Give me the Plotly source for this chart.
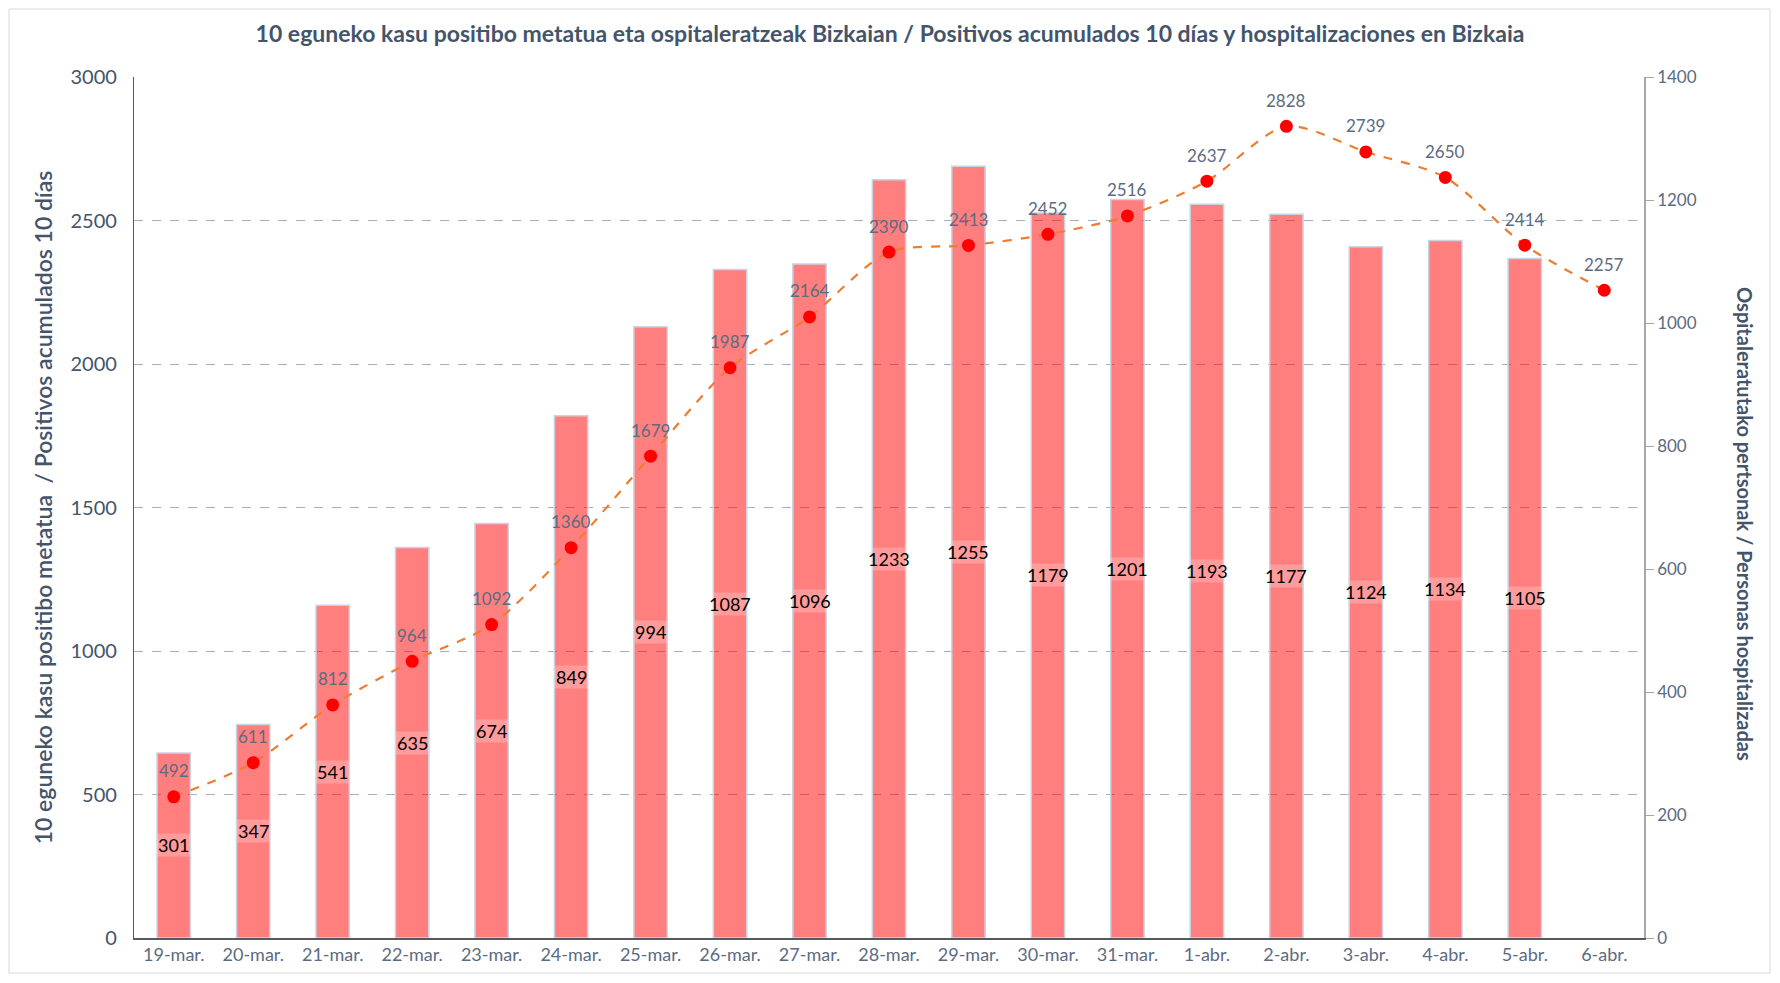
import plotly.graph_objects as go

dates = ["19-mar.", "20-mar.", "21-mar.", "22-mar.", "23-mar.", "24-mar.", "25-mar.",
         "26-mar.", "27-mar.", "28-mar.", "29-mar.", "30-mar.", "31-mar.", "1-abr.",
         "2-abr.", "3-abr.", "4-abr.", "5-abr.", "6-abr."]
hospitalized = [301, 347, 541, 635, 674, 849, 994, 1087, 1096, 1233, 1255, 1179, 1201,
                1193, 1177, 1124, 1134, 1105, None]
positives_10d = [492, 611, 812, 964, 1092, 1360, 1679, 1987, 2164, 2390, 2413, 2452, 2516,
                 2637, 2828, 2739, 2650, 2414, 2257]

FONT = "Lato"
AXIS_COL = "#44546A"
TICK_COL = "#5B6B82"

W, H = 1764, 967
L, T = 126, 69
PW, PH = 1510, 861

fig = go.Figure()

# bars on primary axis (drawn first, below)
fig.add_trace(go.Bar(
    x=dates, y=hospitalized, yaxis="y", width=0.42,
    marker=dict(color="rgba(255,0,0,0.5)", line=dict(color="#C9D3E3", width=1.5)),
    name="Ospitaleratuak",
))

# line on overlaying axis (drawn on top)
fig.add_trace(go.Scatter(
    x=dates, y=positives_10d, yaxis="y2", mode="lines+markers",
    line=dict(color="#ED7D31", width=2.2, dash="dash", shape="spline", smoothing=0.8),
    marker=dict(color="#FF0000", size=13),
    name="Positivos",
))

annotations = []
for d, v in zip(dates, hospitalized):
    if v is None:
        continue
    # light band behind the label
    annotations.append(dict(
        x=d, y=v / 2, xref="x", yref="y", text=" ", showarrow=False,
        bgcolor="rgba(255,255,255,0.22)", width=32, height=22, borderpad=0,
    ))
    annotations.append(dict(
        x=d, y=v / 2, xref="x", yref="y", text=str(v), showarrow=False,
        font=dict(family=FONT, size=18, color="#000000"),
    ))
for d, v in zip(dates, positives_10d):
    annotations.append(dict(
        x=d, y=v, xref="x", yref="y2", text=str(v), showarrow=False, yshift=26,
        font=dict(family=FONT, size=17, color=TICK_COL),
    ))
annotations.append(dict(
    x=-0.071, y=0.5, xref="paper", yref="paper", textangle=-90, showarrow=False,
    text="10 eguneko kasu positibo metatua  / Positivos acumulados 10 días",
    font=dict(family=FONT, size=23, color=AXIS_COL, weight=600),
))
annotations.append(dict(
    x=1.076, y=0.481, xref="paper", yref="paper", textangle=90, showarrow=False,
    text="<b>Ospitaleratutako pertsonak / Personas hospitalizadas</b>",
    font=dict(family=FONT, size=20, color=AXIS_COL),
))

fig.update_layout(
    width=W, height=H,
    margin=dict(l=L, r=W - L - PW, t=T, b=H - T - PH, autoexpand=False),
    paper_bgcolor="white", plot_bgcolor="white",
    showlegend=False,
    title=dict(
        text="<b>10 eguneko kasu positibo metatua eta ospitaleratzeak Bizkaian / Positivos acumulados 10 días y hospitalizaciones en Bizkaia</b>",
        x=0.5, xanchor="center", y=1 - 26 / H, yanchor="middle",
        font=dict(family=FONT, size=23, color=AXIS_COL),
    ),
    xaxis=dict(
        type="category", range=[-0.5, 18.5],
        showline=True, linecolor="#595959", linewidth=1.5,
        showgrid=False, ticks="",
        tickfont=dict(family=FONT, size=18, color=TICK_COL),
    ),
    yaxis=dict(
        range=[0, 1400], dtick=200, side="right",
        showline=True, linecolor="#A6A6A6", linewidth=1.5,
        showgrid=False, zeroline=False,
        ticks="outside", ticklen=8, tickcolor="#A6A6A6",
        tickfont=dict(family=FONT, size=17, color=TICK_COL),
    ),
    yaxis2=dict(
        range=[0, 3000], dtick=500, side="left", overlaying="y",
        showline=True, linecolor="#595959", linewidth=1.2,
        showgrid=True, gridcolor="#9FB0CB", griddash="dash", gridwidth=1,
        zeroline=False, ticks="", ticklabelstandoff=12,
        tickfont=dict(family=FONT, size=20, color=AXIS_COL),
    ),
    annotations=annotations,
    shapes=[dict(
        type="rect", xref="paper", yref="paper",
        x0=(1 - L) / PW, x1=(W - 2 - L) / PW,
        y0=(T + PH - (H - 2)) / PH, y1=(T + PH - 1) / PH,
        line=dict(color="#D9D9D9", width=1), fillcolor="rgba(0,0,0,0)", layer="below",
    )],
)

fig.write_html("out.html")
